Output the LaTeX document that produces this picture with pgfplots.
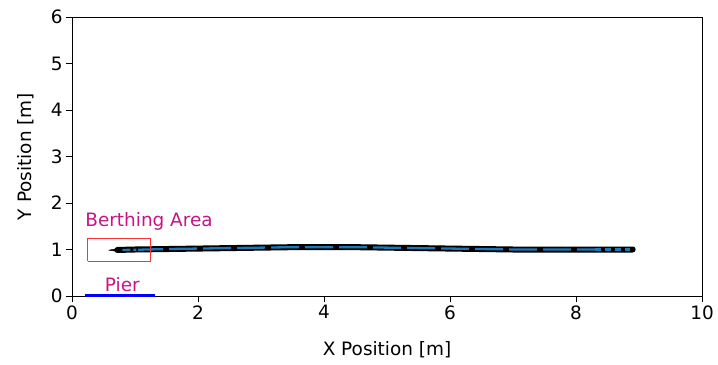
\documentclass[border=0pt]{standalone}
\usepackage{pgfplots}
\pgfplotsset{compat=1.18}
\usepackage{fontspec}
\setmainfont{DejaVu Sans}
\definecolor{mplblue}{HTML}{1F77B4}
\definecolor{berth}{HTML}{C71585}
\begin{document}
\begin{tikzpicture}
\path[use as bounding box] (-72bp,-69bp) rectangle (646bp,296bp);
\begin{axis}[
  at={(0,0)}, anchor=south west,
  scale only axis, width=630bp, height=279bp,
  xmin=0, xmax=10, ymin=0, ymax=6,
  xtick={0,2,4,6,8,10}, ytick={0,1,2,3,4,5,6},
  xtick pos=bottom, ytick pos=left,
  xlabel={X Position [m]}, ylabel={Y Position [m]},
  tick align=outside, tick style={black, line width=0.9pt},
  major tick length=6bp,
  axis line style={line width=0.9pt},
  /pgf/number format/assume math mode=true,
  ticklabel style={font=\fontsize{18.5}{20}\selectfont},
  label style={font=\fontsize{18.5}{20}\selectfont},
  xlabel style={yshift=-15bp},
  ylabel style={yshift=10bp},
  clip=false,
]
% trajectory (ship outlines)
\addplot[black, line width=6bp, line cap=round] coordinates {
(0.72,0.99) (1.0,1.0) (1.5,1.01) (2.0,1.02) (2.5,1.03) (3.0,1.04) (3.5,1.05) (4.0,1.05) (4.5,1.05) (5.0,1.04) (5.5,1.03) (6.0,1.02) (6.5,1.01) (7.0,1.0) (7.5,1.0) (8.0,1.0) (8.5,1.0) (8.9,1.0)};
\addplot[mplblue, line width=2.3bp, dash pattern=on 28bp off 6bp, dash phase=3bp] coordinates {
(1.05,0.995) (1.5,1.01) (2.0,1.02) (2.5,1.03) (3.0,1.04) (3.5,1.05) (4.0,1.05) (4.5,1.05) (5.0,1.04) (5.5,1.03) (6.0,1.02) (6.5,1.01) (7.0,1.0) (7.5,1.0) (8.0,1.0) (8.3,1.0)};
\addplot[mplblue, line width=2.3bp, dash pattern=on 6bp off 4bp] coordinates {(8.3,1.0) (8.85,1.0)};
\addplot[mplblue, line width=2.3bp, dash pattern=on 8bp off 3bp on 3bp off 3bp] coordinates {(0.8,0.99) (1.05,0.995)};
\addplot[black, fill=black] coordinates {(0.58,0.985) (0.78,1.035) (0.78,0.945) (0.58,0.985)};
% berthing area
\addplot[red!80, line width=0.7pt] coordinates {(0.25,0.75) (1.25,0.75) (1.25,1.25) (0.25,1.25) (0.25,0.75)};
% pier
\addplot[blue, line width=3bp] coordinates {(0.2,0.02) (1.32,0.02)};
\node[anchor=base west, text=berth, font=\fontsize{18.5}{20}\selectfont, inner sep=0pt] at (axis cs:0.21,1.5) {Berthing Area};
\node[anchor=base west, text=berth, font=\fontsize{18.5}{20}\selectfont, inner sep=0pt] at (axis cs:0.52,0.09) {Pier};
\end{axis}
\end{tikzpicture}
\end{document}
